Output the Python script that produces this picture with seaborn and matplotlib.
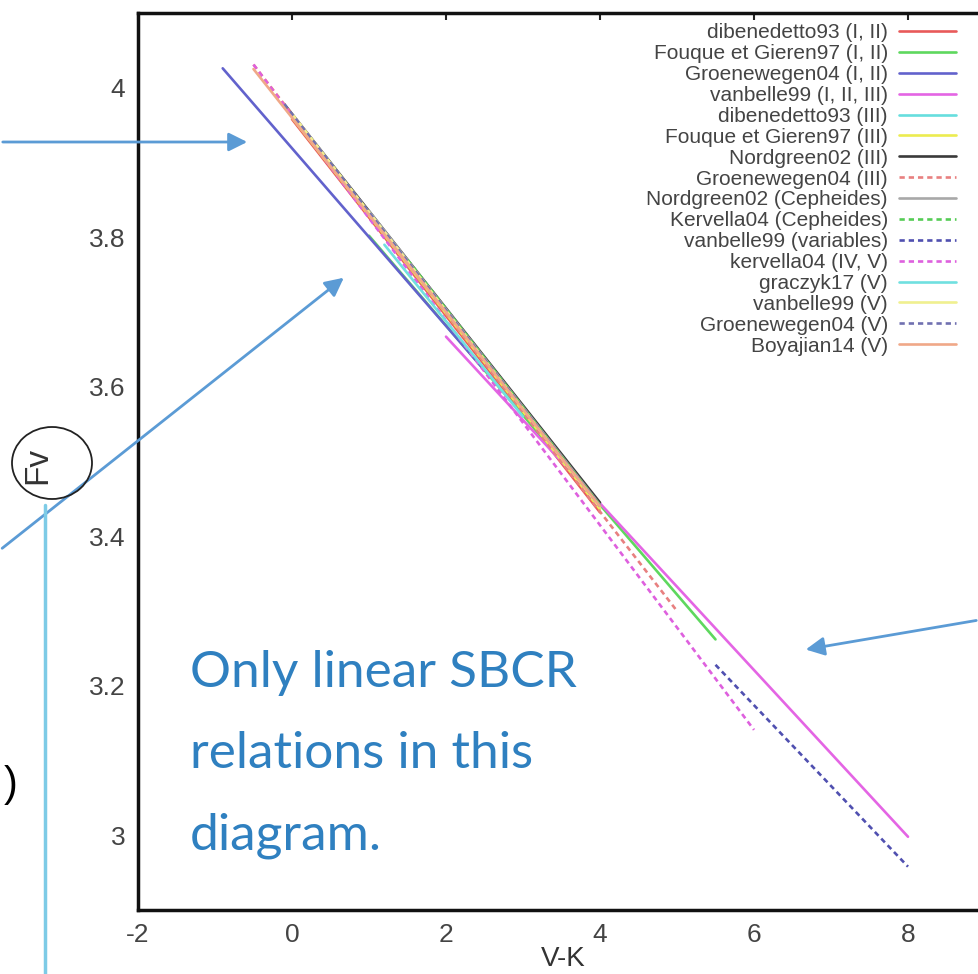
import numpy as np
import pandas as pd
import seaborn as sns
import matplotlib.pyplot as plt
from matplotlib.patches import Ellipse

# --- data: each SBCR relation is a straight segment ---
labels = ['dibenedetto93 (I, II)', 'Fouque et Gieren97 (I, II)', 'Groenewegen04 (I, II)',
          'vanbelle99 (I, II, III)', 'dibenedetto93 (III)', 'Fouque et Gieren97 (III)',
          'Nordgreen02 (III)', 'Groenewegen04 (III)', 'Nordgreen02 (Cepheides)',
          'Kervella04 (Cepheides)', 'vanbelle99 (variables)', 'kervella04 (IV, V)',
          'graczyk17 (V)', 'vanbelle99 (V)', 'Groenewegen04 (V)', 'Boyajian14 (V)']
vk_start = [0.0, 1.0, -0.9, 2.0, 1.0, 0.0, -0.1, -0.5, 1.0, 1.5, 5.5, -0.5, 1.2, 0.0, -0.1, -0.5]
vk_end = [4.0, 5.5, 2.5, 8.0, 4.0, 4.0, 4.0, 5.0, 4.0, 4.0, 8.0, 6.0, 3.0, 4.0, 4.0, 4.0]
fv_start = [3.958, 3.802, 4.026, 3.667, 3.832, 3.960, 3.978, 4.031, 3.835, 3.770,
            3.228, 4.031, 3.790, 3.965, 3.978, 4.025]
fv_end = [3.432, 3.262, 3.622, 2.998, 3.440, 3.436, 3.445, 3.300, 3.442, 3.441,
          2.958, 3.141, 3.560, 3.439, 3.440, 3.440]

colors = ['#e85a5a', '#5ed85e', '#6262cc', '#e465e4', '#66dede', '#ecec50', '#3a3a3a',
          '#e88080', '#a8a8a8', '#55cc55', '#5050b0', '#de60de', '#70e0e0', '#f0f090',
          '#7070b0', '#f0a888']
dot = (2, 1.5)
dashes = ['', '', '', '', '', '', '', dot, '', dot, dot, dot, '', '', dot, '']

df = pd.DataFrame({
    'relation': np.repeat(labels, 2),
    'V-K': np.column_stack([vk_start, vk_end]).ravel(),
    'Fv': np.column_stack([fv_start, fv_end]).ravel(),
})

sns.set_style('white')
plt.rcParams['font.family'] = ['Liberation Sans', 'DejaVu Sans']
plt.rcParams['axes.unicode_minus'] = False

W, H = 979, 974
fig = plt.figure(figsize=(W / 100, H / 100), dpi=100)
ax = fig.add_axes([138 / W, (H - 910) / H, 847 / W, 897 / H])

sns.lineplot(data=df, x='V-K', y='Fv', hue='relation', style='relation',
             hue_order=labels, style_order=labels,
             palette=dict(zip(labels, colors)), dashes=dict(zip(labels, dashes)),
             estimator=None, sort=False, lw=1.9, ax=ax)

ax.set_xlim(-2, 9)
ax.set_ylim(2.9, 4.1)
ax.set_xticks([-2, 0, 2, 4, 6, 8])
ax.set_yticks([3, 3.2, 3.4, 3.6, 3.8, 4])
ax.set_yticklabels(['3', '3.2', '3.4', '3.6', '3.8', '4'])
ax.tick_params(direction='in', length=5, width=1.5, labelsize=19, colors='#222222',
               top=True, right=True, pad=9, labelcolor='#444444')
for s in ax.spines.values():
    s.set_linewidth(2.5)
    s.set_color('#111111')

ax.set_xlabel('V-K', fontsize=20, color='#333333')
ax.xaxis.set_label_coords(0.502, -0.040)
ax.set_ylabel('Fv', fontsize=24, color='#333333')
ax.yaxis.set_label_coords(-0.100, 0.496)

handles, lbls = ax.get_legend_handles_labels()
ax.legend(handles, lbls, loc='upper right', bbox_to_anchor=(966 / W, 1 - 13 / H),
          bbox_transform=fig.transFigure, frameon=False, markerfirst=False,
          fontsize=15, handlelength=2.7, handletextpad=0.55, labelspacing=0.09,
          borderpad=0, labelcolor='#444444')

# --- slide annotations on top of the chart ---
blue = '#5b9bd5'
arrows = [((0, 142), (250, 142)), ((0, 550), (346, 276)), ((979, 620), (803, 650))]
for (x0, y0), (x1, y1) in arrows:
    ax.annotate('', xy=(x1, H - y1), xytext=(x0, H - y0), xycoords='figure pixels',
                textcoords='figure pixels', annotation_clip=False,
                arrowprops=dict(arrowstyle='-|>', color=blue, lw=2, mutation_scale=28))

fig.add_artist(Ellipse((52 / W, (H - 463) / H), 80 / W, 72 / H, transform=fig.transFigure,
                       fill=False, ec='#222222', lw=1.3))
fig.add_artist(plt.Line2D([45 / W, 45 / W], [0, (H - 505) / H], transform=fig.transFigure,
                          color='#7dcbe6', lw=2.5))
fig.text(4 / W, (H - 785) / H, ')', fontsize=30, va='center', ha='left', color='black')

fig.text(190 / W, (H - 650) / H, 'Only linear SBCR\nrelations in this\ndiagram.',
         fontsize=37, color='#2f80c0', va='top', ha='left', linespacing=1.95,
         family=['Lato', 'DejaVu Sans'])

fig.savefig('out.png', dpi=100, facecolor='white')
